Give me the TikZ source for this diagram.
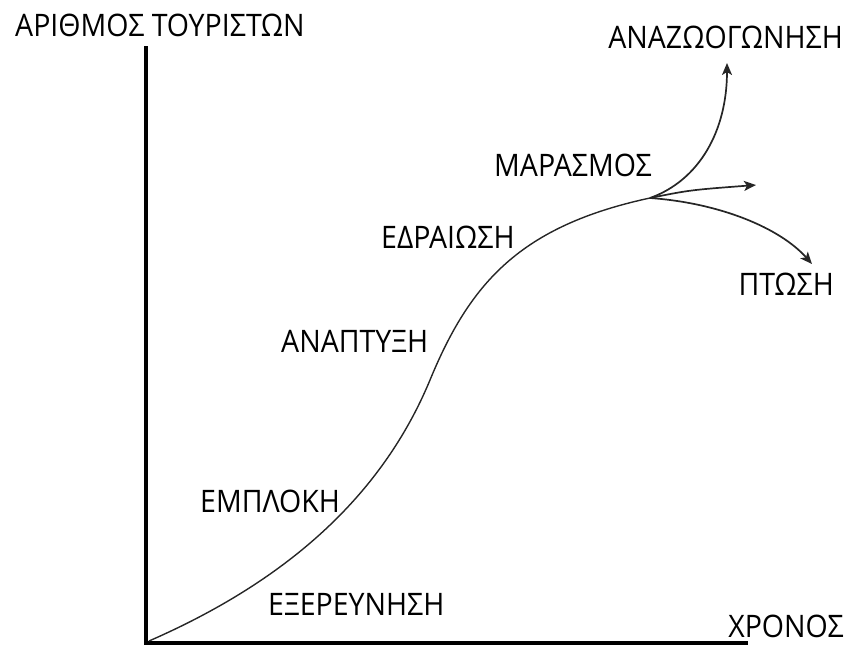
\documentclass[tikz,border=0pt]{standalone}
\usepackage{fontspec}
\setmainfont{Open Sans}[FakeStretch=0.92]
\usetikzlibrary{arrows.meta}
\begin{document}
\begin{tikzpicture}[x=1pt,y=-1pt,
  lbl/.style={anchor=base west,inner sep=0pt,font=\fontsize{31}{32}\selectfont},
  axis/.style={line width=4.5pt},
  curve/.style={line width=1.4pt,black!85},
  branch/.style={line width=1.7pt,black!85,-{Stealth[length=12pt,width=10pt,inset=3pt]}}]
\useasboundingbox (0,0) rectangle (848,646);
% axes
\coordinate (O) at (146,643);
\coordinate (Ytop) at (146,46);
\coordinate (Xend) at (748,643);
\draw[axis] (Ytop) -- (146,645) (144,643) -- (Xend);
% life-cycle curve: rising part, inflection, flattening part
\coordinate (S) at (149,641);
\coordinate (I) at (430,380);
\coordinate (B) at (650,198);
\draw[curve] (S) .. controls (268,589) and (376,510) .. (I)
                 .. controls (470,283) and (520,226) .. (B);
% the three outcomes
\coordinate (Up) at (727,63);
\coordinate (Mid) at (756,185);
\coordinate (Down) at (812,264);
\draw[branch] (B) .. controls (700,180) and (727,130) .. (Up);
\draw[branch] (B) .. controls (690,190) .. (Mid);
\draw[branch] (B) .. controls (720,203) and (780,228) .. (Down);
% labels
\node[lbl] (ly) at (15,36) {ΑΡΙΘΜΟΣ ΤΟΥΡΙΣΤΩΝ};
\node[lbl,anchor=base east] (lx) at (844,637) {ΧΡΟΝΟΣ};
\node[lbl] (l1) at (268,615) {ΕΞΕΡΕΥΝΗΣΗ};
\node[lbl] (l2) at (200,512) {ΕΜΠΛΟΚΗ};
\node[lbl] (l3) at (281,352) {ΑΝΑΠΤΥΞΗ};
\node[lbl] (l4) at (381,248) {ΕΔΡΑΙΩΣΗ};
\node[lbl] (l5) at (494,176) {ΜΑΡΑΣΜΟΣ};
\node[lbl,anchor=base east] (l6) at (843,48) {ΑΝΑΖΩΟΓΩΝΗΣΗ};
\node[lbl,anchor=base east] (l7) at (834,295) {ΠΤΩΣΗ};
\end{tikzpicture}
\end{document}
